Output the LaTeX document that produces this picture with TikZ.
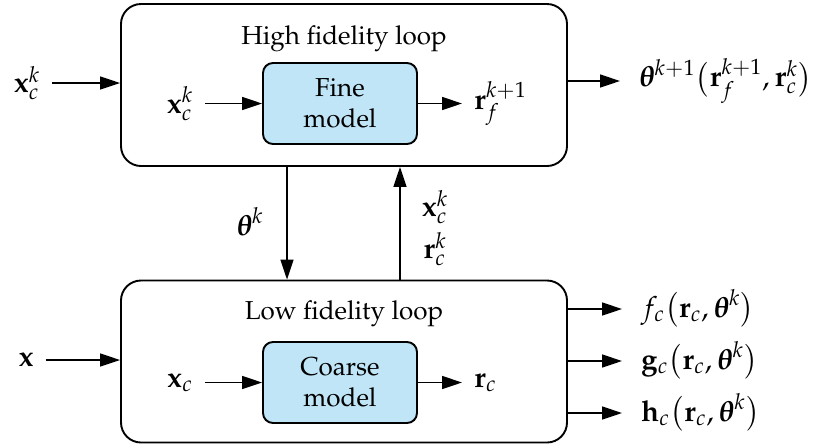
\documentclass[tikz,border=0pt]{standalone}
\usepackage[T1]{fontenc}
\usepackage{amsmath,amssymb}
\usepackage{mathpazo}
\usepackage{tikz}
\usetikzlibrary{arrows.meta,positioning}
\usepackage{xcolor}
\definecolor{modelblue}{HTML}{BFE5F6}

\begin{document}
\begin{tikzpicture}[x=0.5pt, y=-0.5pt,
  every node/.style={font=\fontsize{13}{15.5}\selectfont},
  loopbox/.style={draw, line width=0.95pt, rounded corners=10pt,
    minimum width=223pt, minimum height=81pt},
  modelbox/.style={draw, line width=0.95pt, rounded corners=5pt,
    fill=modelblue, minimum width=77pt, minimum height=40.5pt, align=center},
  lbl/.style={inner sep=1pt, outer sep=5pt, font=\fontsize{14.5}{17}\selectfont},
  outlbl/.style={lbl, anchor=west, outer sep=8.5pt},
  arr/.style={-{Triangle[length=10pt,width=6.5pt]}, line width=0.75pt}]
\useasboundingbox (0,0) rectangle (814,446);
% high fidelity loop
\node[loopbox] (high) at (344,85) {};
\node (hightitle) at (344,39) {High fidelity loop};
\node[modelbox] (fine) at (340,103.5) {Fine\\model};
\node[lbl] (xck) at (27,83) {$\mathbf{x}_c^k$};
\node[lbl] (xckin) at (180,103.5) {$\mathbf{x}_c^k$};
\node[lbl, anchor=west] (rf) at (462,103.5) {$\mathbf{r}_f^{k+1}$};
\node[outlbl] (thnext) at (620,81)
  {$\boldsymbol{\theta}^{k+1}\bigl(\mathbf{r}_f^{k+1},\mathbf{r}_c^k\bigr)$};
\draw[arr] (xck) -- (xck -| high.west);
\draw[arr] (xckin) -- (fine);
\draw[arr] (fine) -- (rf);
\draw[arr] (high.east |- thnext) -- (thnext);
% low fidelity loop
\node[loopbox] (low) at (344,361.5) {};
\node (lowtitle) at (344,314) {Low fidelity loop};
\node[modelbox] (coarse) at (340,382.5) {Coarse\\model};
\node[lbl] (xlow) at (26,360) {$\mathbf{x}$};
\node[lbl] (xcin) at (180,382.5) {$\mathbf{x}_c$};
\node[lbl, anchor=west] (rc) at (462,382.5) {$\mathbf{r}_c$};
\node[outlbl] (fc) at (622,309)
  {$f_c\bigl(\mathbf{r}_c,\boldsymbol{\theta}^k\bigr)$};
\node[outlbl] (gc) at (622,361)
  {$\mathbf{g}_c\bigl(\mathbf{r}_c,\boldsymbol{\theta}^k\bigr)$};
\node[outlbl] (hc) at (622,413)
  {$\mathbf{h}_c\bigl(\mathbf{r}_c,\boldsymbol{\theta}^k\bigr)$};
\draw[arr] (xlow) -- (xlow -| low.west);
\draw[arr] (xcin) -- (coarse);
\draw[arr] (coarse) -- (rc);
\draw[arr] (low.east |- fc) -- (fc);
\draw[arr] (low.east |- gc) -- (gc);
\draw[arr] (low.east |- hc) -- (hc);
% exchange between the loops
\node[lbl] (thk) at (250,222) {$\boldsymbol{\theta}^k$};
\node[lbl] (xckup) at (435,207) {$\mathbf{x}_c^k$};
\node[lbl] (rckup) at (435,249) {$\mathbf{r}_c^k$};
\draw[arr] ([xshift=-28.5pt]high.south) -- ([xshift=-28.5pt]low.north);
\draw[arr] ([xshift=28pt]low.north) -- ([xshift=28pt]high.south);
\end{tikzpicture}
\end{document}
